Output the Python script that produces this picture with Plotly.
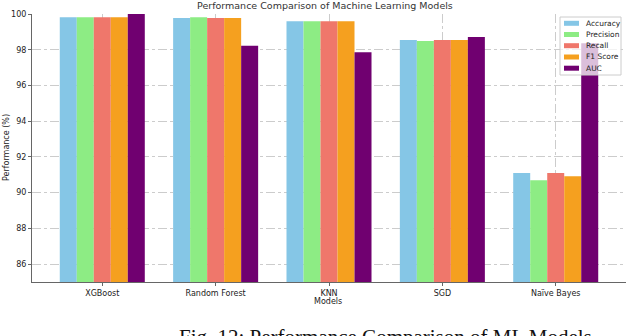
import plotly.graph_objects as go

models = ["XGBoost", "Random Forest", "KNN", "SGD", "Naïve Bayes"]
metrics = ["Accuracy", "Precision", "Recall", "F1 Score", "AUC"]
accuracy = [99.82, 99.78, 99.60, 98.54, 91.10]
precision = [99.82, 99.82, 99.60, 98.49, 90.70]
recall = [99.82, 99.78, 99.60, 98.54, 91.10]
f1_score = [99.82, 99.78, 99.60, 98.54, 90.92]
auc = [100.0, 98.22, 97.86, 98.71, 98.36]
y_ticks = [86, 88, 90, 92, 94, 96, 98, 100]

colors = ["#85C6E6", "#8DEC84", "#EF776B", "#F5A01F", "#700070"]
series = [accuracy, precision, recall, f1_score, auc]

font = "DejaVu Sans"

# plot area in pixels (used only to place the hand-made legend / labels)
L, R, T, B = 32, 626, 14, 282


def px(x):
    return (x - L) / (R - L)


def py(y):
    return (B - y) / (B - T)


fig = go.Figure()
for name, vals, c in zip(metrics, series, colors):
    fig.add_trace(go.Bar(x=models, y=vals, name=name, marker_color=c,
                         marker_line_width=0, showlegend=False))

fig.update_layout(
    width=626, height=336,
    margin=dict(l=L, r=626 - R, t=T, b=336 - B),
    paper_bgcolor="white", plot_bgcolor="white",
    barmode="group", bargap=0.25, bargroupgap=0,
    font=dict(family=font, size=8, color="#222"),
)
fig.update_xaxes(
    range=[-0.62, 4.62], showline=True, linecolor="#666", linewidth=1,
    showgrid=True, gridcolor="#ccc", griddash="dashdot", gridwidth=1,
    ticks="outside", ticklen=3, tickcolor="#666", automargin=False,
    tickfont=dict(size=8),
)
fig.update_yaxes(
    range=[85, 100], tickvals=y_ticks, showline=True, linecolor="#666",
    linewidth=1, showgrid=True, gridcolor="#ccc", griddash="dashdot",
    gridwidth=1, ticks="outside", ticklen=3, tickcolor="#666",
    automargin=False, tickfont=dict(size=8), zeroline=False,
)

# title and axis titles
fig.add_annotation(text="Performance Comparison of Machine Learning Models",
                   xref="paper", yref="paper", x=px(325), y=py(5),
                   xanchor="center", yanchor="middle", showarrow=False,
                   font=dict(size=9.5, color="#333"))
fig.add_annotation(text="Models", xref="paper", yref="paper", x=px(328),
                   y=py(301), xanchor="center", yanchor="middle",
                   showarrow=False, font=dict(size=8))
fig.add_annotation(text="Performance (%)", xref="paper", yref="paper",
                   x=px(6), y=py(148), xanchor="center", yanchor="middle",
                   textangle=-90, showarrow=False, font=dict(size=8))

# legend box
fig.add_shape(type="rect", xref="paper", yref="paper",
              x0=px(560), x1=px(621), y0=py(75), y1=py(17),
              fillcolor="rgba(255,255,255,0.75)", line=dict(color="#ccc", width=1))
ys = [23.3, 34.5, 45.7, 57, 68.2]
for name, c, yy in zip(metrics, colors, ys):
    fig.add_shape(type="rect", xref="paper", yref="paper",
                  x0=px(564), x1=px(579), y0=py(yy + 2.5), y1=py(yy - 2.5),
                  fillcolor=c, line=dict(width=0))
    fig.add_annotation(text=name, xref="paper", yref="paper", x=px(584),
                       y=py(yy), xanchor="left", yanchor="middle",
                       showarrow=False, font=dict(size=7.5, color="#222"))

fig.add_annotation(
    text="Fig. 12: Performance Comparison of ML Models",
    xref="paper", yref="paper", x=px(386), y=py(323), xanchor="center",
    yanchor="top", showarrow=False,
    font=dict(family="Liberation Serif", size=21, color="#111"),
)

# page body has an 8px default margin; drop it so the figure sits at 0,0
fig.write_html("out.html", config={"displayModeBar": False},
               post_script="document.body.style.margin='0px';")
